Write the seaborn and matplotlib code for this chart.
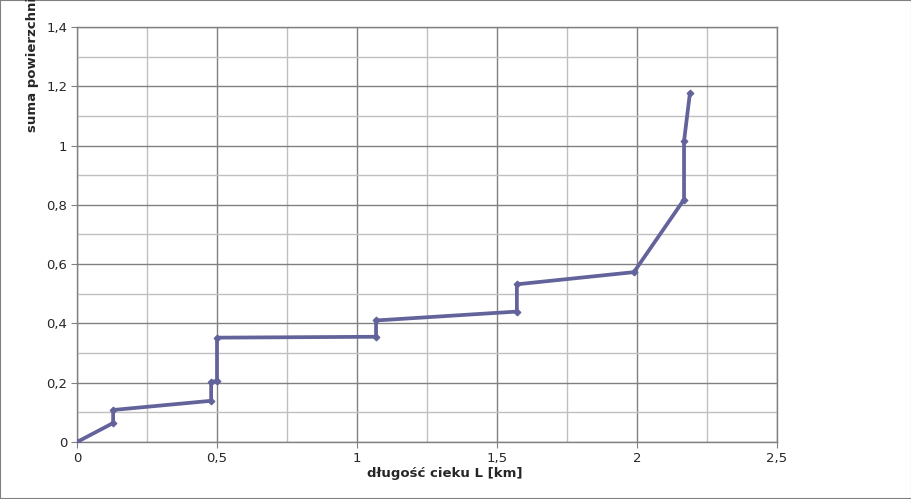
import matplotlib
matplotlib.use('Agg')
import matplotlib.pyplot as plt
import seaborn as sns
import pandas as pd
from matplotlib.ticker import MultipleLocator, FuncFormatter

# dane
dlugosc = [0.0, 0.129, 0.129, 0.479, 0.479, 0.500, 0.500, 1.068, 1.068,
           1.571, 1.571, 1.989, 2.168, 2.168, 2.189]
suma_pow = [0.0, 0.064, 0.108, 0.139, 0.203, 0.206, 0.352, 0.355, 0.410,
            0.440, 0.532, 0.573, 0.818, 1.015, 1.177]

df = pd.DataFrame({'L': dlugosc, 'F': suma_pow})

sns.set_style('white')
plt.rcParams['font.family'] = ['DejaVu Sans']

fig = plt.figure(figsize=(9.12, 4.99), dpi=100)
ax = fig.add_axes([77 / 912, 57 / 499, 700 / 912, 415 / 499])

sns.lineplot(data=df, x='L', y='F', sort=False, estimator=None, ax=ax,
             color='#63639b', linewidth=2.7, marker='D', markersize=3.5,
             markeredgecolor='#63639b', zorder=3)

ax.set_xlim(0, 2.5)
ax.set_ylim(0, 1.4)
ax.xaxis.set_major_locator(MultipleLocator(0.5))
ax.xaxis.set_minor_locator(MultipleLocator(0.25))
ax.yaxis.set_major_locator(MultipleLocator(0.2))
ax.yaxis.set_minor_locator(MultipleLocator(0.1))

fmt = FuncFormatter(lambda v, p: ('%g' % round(v, 2)).replace('.', ','))
ax.xaxis.set_major_formatter(fmt)
ax.yaxis.set_major_formatter(fmt)

ax.grid(which='major', color='#808080', linewidth=1.0)
ax.grid(which='minor', color='#c0c0c0', linewidth=1.0)
ax.set_axisbelow(True)

for s in ax.spines.values():
    s.set_color('#808080')
    s.set_linewidth(1.0)

ax.tick_params(which='major', direction='out', length=4, color='#808080',
               labelsize=9.5, pad=3, left=True, bottom=True)
ax.tick_params(which='minor', length=0)

ax.set_xlabel('')
ax.set_ylabel('')
fig.text(445 / 912, 1 - 473 / 499, 'długość cieku L [km]', ha='center',
         va='center', fontsize=9.5, fontweight='bold')
fig.text(33 / 912, 1 - 132 / 499, 'suma powierzchni zlewni F [km²]',
         rotation=90, ha='center', va='bottom', fontsize=9.5,
         fontweight='bold')

# ramka wokół całego rysunku
fig.patches.append(plt.Rectangle((0, 0), 1, 1, transform=fig.transFigure,
                                 fill=False, edgecolor='#808080',
                                 linewidth=1.5))

plt.savefig('out.png', dpi=100)
